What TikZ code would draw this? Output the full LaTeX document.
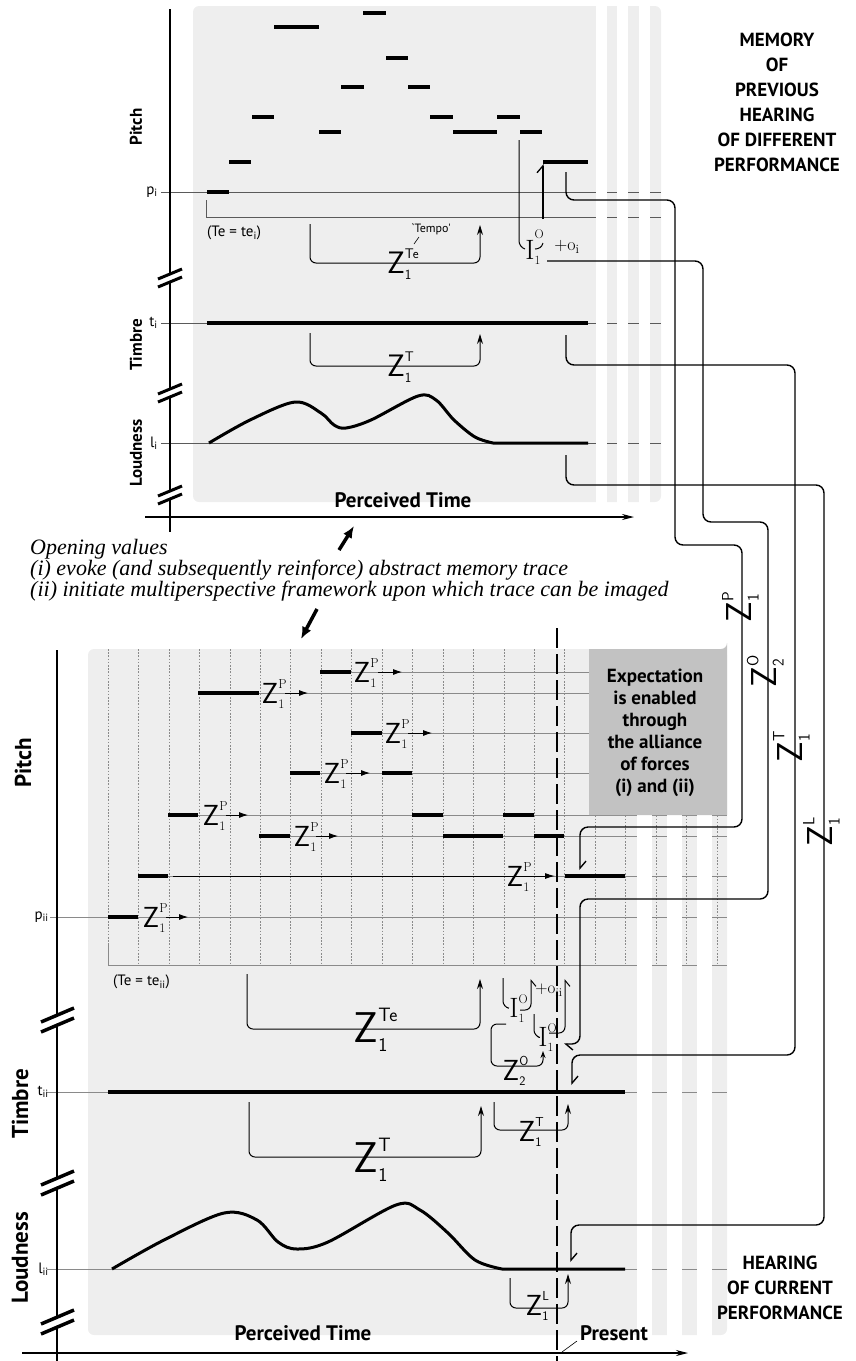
\documentclass[tikz,border=0pt]{standalone}
\usepackage{fontspec}
\usepackage{graphicx}
\usetikzlibrary{arrows.meta}
\newfontfamily\labfont{PT Sans}
\newfontfamily\notefont{Liberation Serif}
\definecolor{panel}{HTML}{EEEEEE}
\definecolor{boxgray}{HTML}{C2C2C2}
\definecolor{gridgray}{HTML}{8A8A8A}
\definecolor{thingray}{HTML}{5A5A5A}
% Z with upper and lower index, the box is the Z alone
\newcommand{\zz}[2]{Z\rlap{\smash{\raisebox{.5em}{\scalebox{.45}{#1}}}}\rlap{\smash{\raisebox{-.2em}{\scalebox{.45}{#2}}}}}
\newcommand{\ii}[3][.5em]{I\rlap{\smash{\raisebox{#1}{\scalebox{.45}{#2}}}}\rlap{\smash{\raisebox{-.18em}{\scalebox{.45}{#3}}}}}

\begin{document}
\begin{tikzpicture}[x=1pt, y=-1pt,
  every node/.style={inner sep=0pt},
  bar/.style={line width=3.6pt},
  rowline/.style={draw=gridgray, line width=.8pt},
  topline/.style={draw=thingray, line width=.8pt},
  grid/.style={draw=gridgray, line width=.6pt, dash pattern=on 1.6pt off 1.6pt},
  axis/.style={line width=1.3pt},
  conn/.style={line width=1.4pt, rounded corners=8pt},
  brack/.style={line width=1pt, rounded corners=6pt},
  hook/.style={-{Straight Barb[harpoon, length=7pt, width=12pt]}},
  hookr/.style={-{Straight Barb[harpoon, swap, length=6pt, width=10pt]}},
  uparr/.style={-{Stealth[length=10pt, width=6pt]}},
  mid/.style={line width=.8pt, -{Latex[length=9pt, width=6pt]}},
  zbig/.style={font=\sffamily\fontsize{43}{43}\selectfont},
  zmed/.style={font=\sffamily\fontsize{31}{31}\selectfont},
  zsmall/.style={font=\sffamily\fontsize{29}{29}\selectfont},
  zrot/.style={font=\sffamily\fontsize{36}{36}\selectfont, rotate=90},
  ilab/.style={font=\rmfamily\fontsize{28}{28}\selectfont},
  axlab/.style={font=\labfont\bfseries\fontsize{17}{17}\selectfont, rotate=90},
  bigaxlab/.style={font=\labfont\bfseries\fontsize{23}{23}\selectfont, rotate=90},
  val/.style={font=\labfont\fontsize{15}{15}\selectfont},
  caption/.style={font=\labfont\bfseries\fontsize{19}{25}\selectfont, align=center},
  brk/.style={line width=3pt}
]
\useasboundingbox (0,0) rectangle (856,1361);

%% memory of previous hearing
\fill[panel, rounded corners=6pt] (193,6) rectangle (661,502);
\foreach \x/\y in {161/192, 206/217, 161/323, 161/443}
  \draw[topline] (\x,\y) -- (661,\y);
\draw[topline] (206,200) -- (206,217);
\foreach \x in {596,617,639}
  \fill[white] (\x,0) rectangle (\x+11,505);

\foreach \a/\b/\y in {207/229/192, 229/251/162, 252/274/117, 274/319/27, 319/341/132,
    341/364/87, 363/386/13, 386/408/58, 408/430/87, 430/453/117, 453/497/132,
    497/520/117, 520/542/132, 543/588/162}
  \draw[bar] (\a,\y) -- (\b,\y);
\draw[bar] (207,323) -- (588,323);
\draw[line width=3pt, line join=round] plot[smooth, tension=.55] coordinates {(209,443) (250,420) (295,402)
  (321,413) (334,425) (346,428) (371,420) (418,396) (436,400) (454,420) (475,437) (493,443)} -- (588,443);

\draw[axis] (170,9) -- (170,532);
\draw[axis, -{Stealth[length=12pt, width=6pt]}] (145,517) -- (634,517);
\foreach \y in {278,393,495} {
  \draw[white, line width=5pt] (158,\y+5) -- (182,\y-5);
  \draw[brk] (158,\y+9) -- (182,\y-1);
  \draw[brk] (158,\y+1) -- (182,\y-9);
}
\node[axlab] (pitchA) at (136,127) {Pitch};
\node[axlab] (timbreA) at (136,345) {Timbre};
\node[axlab] (loudA) at (136,453) {Loudness};
\node[val, anchor=east] (pi) at (158,192) {p\textsubscript{i}};
\node[val, anchor=east] (ti) at (158,323) {t\textsubscript{i}};
\node[val, anchor=east] (li) at (158,443) {l\textsubscript{i}};
\node[val, anchor=west] (tei) at (207,233) {(Te = te\textsubscript{i})};
\node[font=\labfont\bfseries\fontsize{21}{21}\selectfont] (ptA) at (403,500) {Perceived Time};

\draw[brack, uparr] (310,224) -- (310,263) -- (480,263) -- (480,225);
\node[zmed] (zteA) at (396,263) {\zz{Te}{1}};
\node[font=\labfont\fontsize{12}{12}\selectfont] (tempo) at (431,229) {`Tempo'};
\draw[line width=.6pt] (419,237) -- (414,244);
\draw[brack, uparr] (310,333) -- (310,366) -- (480,366) -- (480,334);
\node[zmed] (ztA) at (396,366) {\zz{T}{1}};

\node[ilab] (ioA) at (530,250) {\ii[.74em]{O}{1}};
\draw[brack] (519,140) -- (519,247) -- (525,249);
\draw[line width=1pt] (535,249) .. controls (539,249) and (542,247) .. (543,243);
\draw[line width=1.3pt, hook] (543,219) -- (543,164);
\node[font=\rmfamily\fontsize{18}{18}\selectfont] (oi) at (567,247) {+o\textsubscript{i}};

\node[caption] (memory) at (777,102) {MEMORY\\OF\\PREVIOUS\\HEARING\\OF DIFFERENT\\PERFORMANCE};

%% opening values
\draw[line width=3.5pt, -{Latex[length=12pt, width=10pt]}] (339,550) -- (354,526);
\node[anchor=north west, align=left, font=\notefont\itshape\fontsize{22}{21}\selectfont] (opening) at (30,539)
  {Opening values\\(i) evoke (and subsequently reinforce) abstract memory trace\\(ii) initiate multiperspective framework upon which trace can be imaged};
\draw[line width=3.5pt, -{Latex[length=12pt, width=10pt]}] (317,609) -- (301,639);

%% hearing of current performance
\fill[panel, rounded corners=6pt] (88,649) rectangle (727,1335);
\foreach \k in {0,...,20}
  \draw[grid] (108+30.45*\k,649) -- (108+30.45*\k,965);
\foreach \x/\y in {320/672, 198/693, 351/733, 290/773, 168/815, 259/836, 168/876, 50/917, 47/1092, 47/1269}
  \draw[rowline] (\x,\y) -- (727,\y);
\draw[rowline] (108,944) -- (108,965) -- (727,965);
\foreach \x in {637,667,697}
  \fill[white] (\x,815) rectangle (\x+15,1340);
\fill[boxgray] (589,815) -- (589,649) -- (721,649) arc[start angle=90, end angle=0, radius=6] -- (727,815) -- cycle;
\node[caption, font=\labfont\bfseries\fontsize{19}{22}\selectfont] (expect) at (655,733)
  {Expectation\\is enabled\\through\\the alliance\\of forces\\(i) and (ii)};

\foreach \a/\b/\y in {108/138/917, 138/168/876, 168/198/815, 198/259/693, 259/290/836, 290/320/773,
    320/351/672, 351/382/733, 382/412/773, 412/443/815, 443/503/836, 503/534/815, 534/564/836, 565/625/876}
  \draw[bar] (\a,\y) -- (\b,\y);
\foreach \z/\y/\s/\t in {151/917/166/188, 211/815/226/248, 270/693/285/308, 302/836/316/338,
    332/773/346/370, 362/672/378/402, 393/733/408/432} {
  \node[zsmall] (zp\y) at (\z,\y) {\zz{\rmfamily P}{\rmfamily 1}};
  \draw[mid] (\s,\y) -- (\t,\y);
}
\draw[line width=1pt, -{Latex[length=10pt, width=6pt]}] (173,876) -- (555,876);
\node[zsmall] (zpnow) at (515,876) {\zz{\rmfamily P}{\rmfamily 1}};

\node[val, anchor=west] (teii) at (113,982) {(Te = te\textsubscript{ii})};
\draw[brack, uparr] (247,974) -- (247,1029) -- (480,1029) -- (480,979);
\node[zbig] (zteB) at (366,1028) {\zz{Te}{1}};

\node[ilab] (ioB) at (514,1008) {\ii{O}{1}};
\draw[brack] (503,978) -- (503,1007) -- (508,1008);
\draw[brack, hookr] (520,1010) -- (531,1010) -- (531,979);
\node[font=\rmfamily\fontsize{17}{17}\selectfont] (oii) at (549,990) {+o\textsubscript{ii}};
\node[ilab] (ioC) at (543,1037) {\ii{O}{1}};
\draw[brack] (534,1014) -- (534,1036) -- (538,1037);
\draw[brack, hookr] (549,1033) -- (565,1033) -- (565,979);
\draw[brack, -{Stealth[length=7pt, width=5pt]}] (506,1024) -- (491,1024) -- (491,1066) -- (543,1066) -- (543,1051);
\node[zsmall] (zoB) at (511,1070) {\zz{O}{2}};

\draw[bar] (108,1092) -- (625,1092);
\draw[brack, uparr] (249,1102) -- (249,1157) -- (481,1157) -- (481,1106);
\node[zbig] (ztB) at (366,1158) {\zz{T}{1}};
\draw[brack, uparr] (494,1102) -- (494,1130) -- (568,1130) -- (568,1104);
\node[zsmall] (ztnow) at (527,1131) {\zz{T}{1}};

\draw[line width=3pt, line join=round] plot[smooth, tension=.55] coordinates {(112,1269) (164,1240) (224,1213)
  (257,1220) (278,1242) (297,1249) (328,1242) (396,1205) (420,1210) (448,1233) (475,1260) (502,1269)} -- (625,1269);
\draw[brack, uparr] (510,1278) -- (510,1308) -- (568,1308) -- (568,1274);
\node[zsmall] (zlnow) at (534,1305) {\zz{L}{1}};

\draw[line width=2.6pt, dash pattern=on 20pt off 6pt] (557,628) -- (557,1361);

\draw[axis] (57,650) -- (57,1361);
\draw[axis, -{Stealth[length=12pt, width=6pt]}] (22,1353) -- (688,1353);
\foreach \y in {1020,1183,1322} {
  \draw[white, line width=6pt] (41,\y+7) -- (74,\y-7);
  \draw[line width=3.5pt] (41,\y+12) -- (74,\y-2);
  \draw[line width=3.5pt] (41,\y+2) -- (74,\y-12);
}
\node[bigaxlab] (pitchB) at (23,763) {Pitch};
\node[bigaxlab] (timbreB) at (20,1104) {Timbre};
\node[bigaxlab] (loudB) at (20,1258) {Loudness};
\node[val, anchor=east] (pii) at (49,917) {p\textsubscript{ii}};
\node[val, anchor=east] (tii) at (49,1092) {t\textsubscript{ii}};
\node[val, anchor=east] (lii) at (49,1269) {l\textsubscript{ii}};
\node[font=\labfont\bfseries\fontsize{21}{21}\selectfont] (ptB) at (303,1333) {Perceived Time};
\node[font=\labfont\bfseries\fontsize{21}{21}\selectfont] (present) at (614,1333) {Present};
\draw[line width=.6pt] (562,1352) -- (577,1341);
\node[caption] (hearing) at (780,1288) {HEARING\\OF CURRENT\\PERFORMANCE};

%% links from the memory trace
\coordinate (pfrom) at (566,172);  \coordinate (pto) at (580,870);
\coordinate (ofrom) at (547,261);  \coordinate (oto) at (564,1044);
\coordinate (tfrom) at (566,335);  \coordinate (tto) at (572,1085);
\coordinate (lfrom) at (566,455);  \coordinate (lto) at (571,1262);
\draw[conn, hook] (pfrom) -- (566,200) -- (675,200) -- (675,545) -- (742,545) -- (742,827) -- (580,827) -- (pto);
\draw[conn, hook] (ofrom) -- (703,261) -- (703,522) -- (768,522) -- (768,899) -- (580,899) -- (580,1044) -- (oto);
\draw[conn, hook] (tfrom) -- (566,365) -- (795,365) -- (795,1055) -- (572,1055) -- (tto);
\draw[conn, hook] (lfrom) -- (566,485) -- (824,485) -- (824,1225) -- (571,1225) -- (lto);
\node[zrot] (zpR) at (739,612) {\zz{P}{1}};
\node[zrot] (zoR) at (764,677) {\zz{O}{2}};
\node[zrot] (ztR) at (790,752) {\zz{T}{1}};
\node[zrot] (zlR) at (820,836) {\zz{L}{1}};
\end{tikzpicture}
\end{document}
